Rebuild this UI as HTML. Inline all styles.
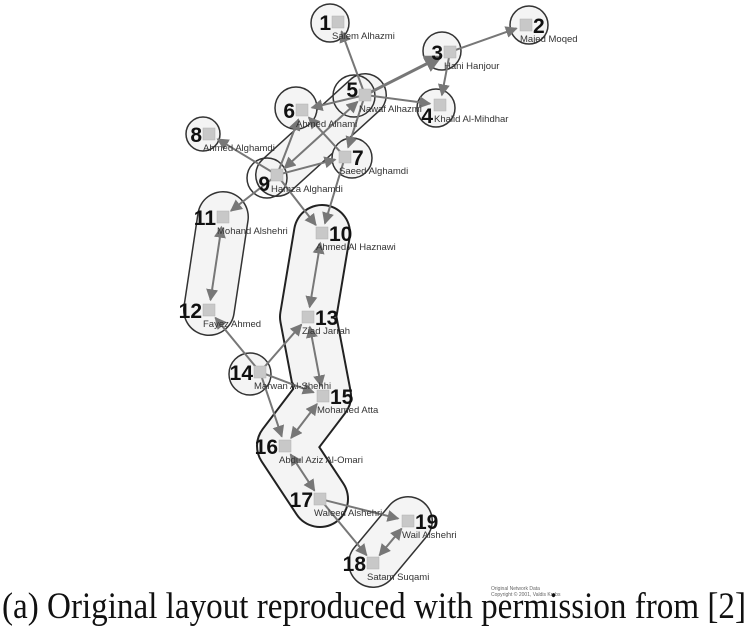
<!DOCTYPE html>
<html><head><meta charset="utf-8"><style>
html,body{margin:0;padding:0;background:#fff;width:749px;height:630px;overflow:hidden}
svg{display:block}
.n{font:bold 21px "Liberation Sans",sans-serif;fill:#111}
.l{font:9.5px "Liberation Sans",sans-serif;fill:#333}
</style></head><body>
<svg id="s" width="749" height="630" viewBox="0 0 749 630" xmlns="http://www.w3.org/2000/svg">
<defs>
<marker id="a" viewBox="0 0 10 10" refX="9" refY="5" markerWidth="6" markerHeight="6" orient="auto-start-reverse"><path d="M0,0L10,5L0,10z" fill="#777"/></marker>
</defs>
<g stroke="#333" stroke-width="1.5" fill="#f4f4f4">
<line x1="365" y1="95" x2="277" y2="175" stroke-width="44" stroke-linecap="round"/>
<line x1="365" y1="95" x2="277" y2="175" stroke="#f4f4f4" stroke-width="41" stroke-linecap="round"/>
<line x1="223" y1="217" x2="209" y2="310" stroke-width="52" stroke-linecap="round"/>
<line x1="223" y1="217" x2="209" y2="310" stroke="#f4f4f4" stroke-width="49" stroke-linecap="round"/>
<polyline points="322,233 308,317 323,396 285,446 320,499" fill="none" stroke="#222" stroke-width="58" stroke-linecap="round" stroke-linejoin="round"/>
<polyline points="322,233 308,317 323,396 285,446 320,499" fill="none" stroke="#f4f4f4" stroke-width="54" stroke-linecap="round" stroke-linejoin="round"/>
<line x1="373" y1="563" x2="408" y2="521" stroke-width="50" stroke-linecap="round"/>
<line x1="373" y1="563" x2="408" y2="521" stroke="#f4f4f4" stroke-width="47" stroke-linecap="round"/>
<circle cx="330" cy="23" r="19"/>
<circle cx="529" cy="25" r="19"/>
<circle cx="442" cy="51" r="19"/>
<circle cx="436" cy="108" r="19"/>
<circle cx="354" cy="96" r="21" fill="none"/>
<circle cx="296" cy="108" r="21"/>
<circle cx="352" cy="158" r="20"/>
<circle cx="203" cy="134" r="17"/>
<circle cx="267" cy="178" r="20" fill="none"/>
<circle cx="250" cy="374" r="21"/>
</g>
<g id="e" stroke="#777" stroke-width="2" fill="none"></g>
<g id="nodes"></g>
<text x="491" y="590" font-family="Liberation Sans,sans-serif" font-size="5" fill="#666">Original Network Data</text>
<text x="491" y="596" font-family="Liberation Sans,sans-serif" font-size="5" fill="#666">Copyright © 2001, Valdis Krebs</text>
<text x="2" y="618" font-family="Liberation Serif,serif" font-size="37" fill="#111" textLength="744" lengthAdjust="spacingAndGlyphs">(a)  Original layout reproduced with permission from [2]</text>
</svg>
<script>
var P={1:[338,22],2:[526,25],3:[450,52],4:[440,105],5:[365,95],6:[302,110],7:[345,157],8:[209,134],9:[277,175],10:[322,233],11:[223,217],12:[209,310],13:[308,317],14:[260,372],15:[323,396],16:[285,446],17:[320,499],18:[373,563],19:[408,521]};
var E=[[5,1],[3,2],[5,3,1],[3,4],[5,4],[5,6],[9,6],[9,5,2],[7,6],[5,7],[9,8],[9,7],[9,11],[9,10],[7,10],[11,12,2],[10,13,2],[14,12],[14,13],[14,15],[14,16],[13,15,2],[15,16,2],[16,17,2],[17,19],[17,18],[18,19,2]];
var g=document.getElementById('e'),h='';
E.forEach(function(e){var a=P[e[0]],b=P[e[1]],dx=b[0]-a[0],dy=b[1]-a[1],L=Math.hypot(dx,dy),ux=dx/L,uy=dy/L,s=10;
var x1=a[0]+ux*(e[2]==2?s:6),y1=a[1]+uy*(e[2]==2?s:6),x2=b[0]-ux*s,y2=b[1]-uy*s;
h+='<line x1="'+x1+'" y1="'+y1+'" x2="'+x2+'" y2="'+y2+'" marker-end="url(#a)"'+(e[2]==2?' marker-start="url(#a)"':'')+(e[2]==1?' stroke-width="3"':'')+'/>';});
g.innerHTML=h;
var names={1:'Salem Alhazmi',2:'Majed Moqed',3:'Hani Hanjour',4:'Khalid Al-Mihdhar',5:'Nawaf Alhazmi',6:'Ahmed Alnami',7:'Saeed Alghamdi',8:'Ahmed Alghamdi',9:'Hamza Alghamdi',10:'Ahmed Al Haznawi',11:'Mohand Alshehri',12:'Fayez Ahmed',13:'Ziad Jarrah',14:'Marwan Al-Shehhi',15:'Mohamed Atta',16:'Abdul Aziz Al-Omari',17:'Waleed Alshehri',18:'Satam Suqami',19:'Wail Alshehri'};
var right={2:1,7:1,10:1,13:1,15:1,19:1};
var dy={5:-6,4:10,9:8};
var n='';
for(var k in P){var p=P[k],o=dy[k]||0;
n+='<rect x="'+(p[0]-6)+'" y="'+(p[1]-6)+'" width="12" height="12" fill="#c8c8c8" stroke="#b0b0b0" stroke-width="0.5"/>';
if(right[k]) n+='<text class="n" x="'+(p[0]+7)+'" y="'+(p[1]+8+o)+'">'+k+'</text>';
else n+='<text class="n" text-anchor="end" x="'+(p[0]-7)+'" y="'+(p[1]+8+o)+'">'+k+'</text>';
n+='<text class="l" x="'+(p[0]-6)+'" y="'+(p[1]+17)+'">'+names[k]+'</text>';}
document.getElementById('nodes').innerHTML=n;
</script>
</body></html>
